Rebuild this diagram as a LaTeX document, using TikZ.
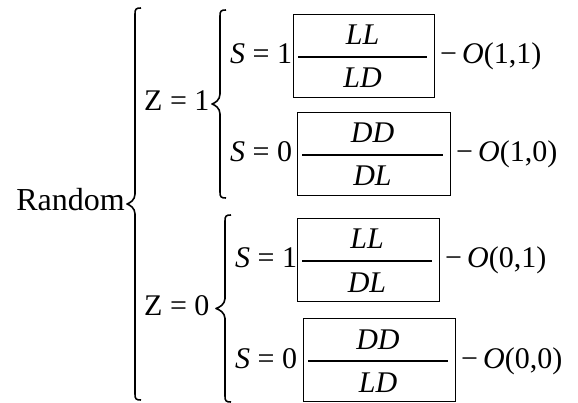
\documentclass[tikz,border=0pt]{standalone}
\usepackage{fontspec}
\setmainfont{Liberation Serif}
\usetikzlibrary{math}

\begin{document}
\begin{tikzpicture}[x=1pt, y=-1pt,
  txt/.style={inner sep=0pt, font=\fontsize{30}{34}\selectfont},
  curly/.style={line width=1.6pt, line join=round},
  fracbox/.style={draw, line width=1.2pt, inner sep=0pt, anchor=north west}]
\tikzmath{
\up=43;
\dn=40;
\hk=6;
}
\useasboundingbox (0,0) rectangle (578,403);

\node[txt, anchor=base east, font=\fontsize{32}{36}\selectfont] (random) at (125,211) {Random};
\node[txt, anchor=base west] (zone) at (144,111) {Z = 1};
\node[txt, anchor=base west] (zzero) at (144,316) {Z = 0};

% braces: name / x / top / bottom / depth of the tip
\foreach \n/\bx/\bt/\bb/\bd in {big/135/8/400/8, one/220/10/198/8, zero/225/215/402/9}{
  \coordinate (\n top) at (\bx+\hk,\bt);
  \coordinate (\n tip) at (\bx-\bd,{(\bt+\bb)/2});
  \coordinate (\n bot) at (\bx+\hk,\bb);
  \draw[curly] (\n top) .. controls (\bx+1,\bt) and (\bx,\bt+1) .. (\bx,\bt+\hk)
    -- (\bx,{(\bt+\bb)/2-10}) .. controls (\bx,{(\bt+\bb)/2-4}) and (\bx-\bd+3,{(\bt+\bb)/2-1}) .. (\n tip)
    .. controls (\bx-\bd+3,{(\bt+\bb)/2+1}) and (\bx,{(\bt+\bb)/2+4}) .. (\bx,{(\bt+\bb)/2+10})
    -- (\bx,\bb-\hk) .. controls (\bx,\bb-1) and (\bx+1,\bb) .. (\n bot);
}

\foreach \i/\ly/\bl/\br/\sx/\s/\num/\den/\za/\zb in {1/57/293/434/230/1/LL/LD/1/1, 2/155/297/450/230/0/DD/DL/1/0, 3/261/297/439/235/1/LL/DL/0/1, 4/361/303/455/235/0/DD/LD/0/0}{
  \node[txt, anchor=base west] (s\i) at (\sx,\ly+7) {\textit{S} = \s};
  \node[fracbox, minimum width={\br-\bl}, minimum height={\up+\dn}] (box\i) at (\bl,\ly-\up) {};
  \coordinate (la\i) at (\bl+5,\ly);
  \coordinate (lb\i) at (\br-7,\ly);
  \draw[line width=1.2pt] (la\i) -- (lb\i);
  \node[txt, anchor=base] (num\i) at ({(\bl+\br)/2-1},\ly-12) {\textit{\num}};
  \node[txt, anchor=base] (den\i) at ({(\bl+\br)/2-1},\ly+31) {\textit{\den}};
  \node[txt, anchor=base west] (o\i) at (\br+6,\ly+7) {−\,\textit{O}(\za,\zb)};
}
\end{tikzpicture}
\end{document}
